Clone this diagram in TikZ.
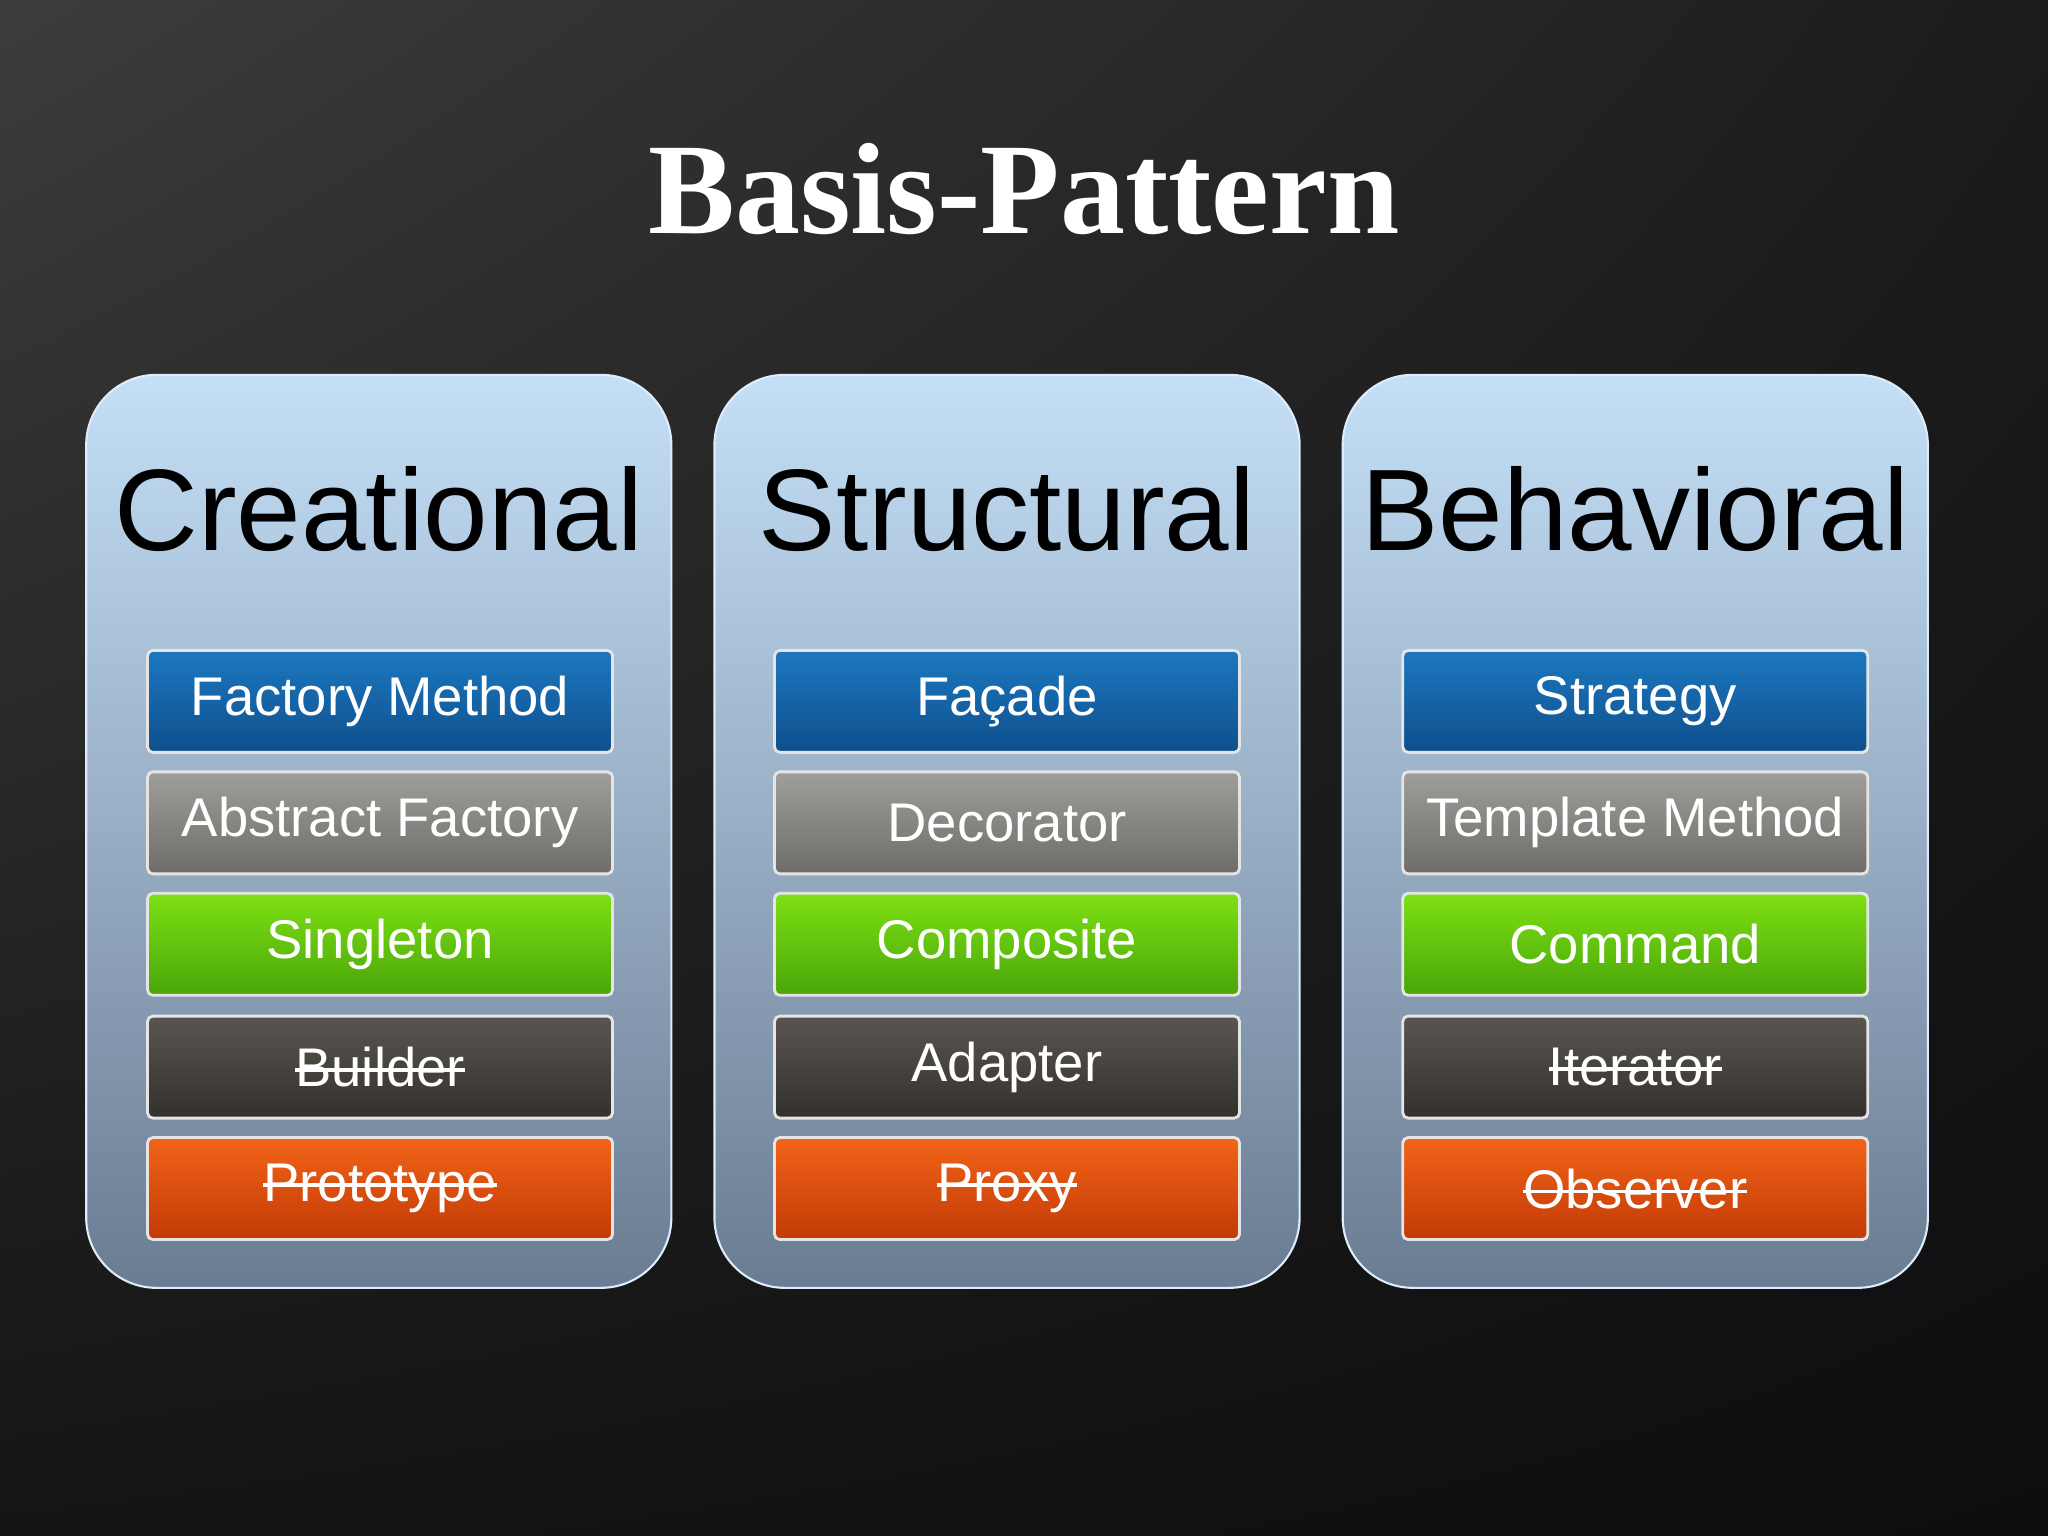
\documentclass[tikz,border=0pt]{standalone}
\usepackage{fontspec}
\setmainfont{Liberation Serif}
\setsansfont{Liberation Sans}
\usetikzlibrary{positioning,shadings}
\newcommand\strk[1]{\setbox0\hbox{#1}\rlap{\rule[0.27em]{\wd0}{1pt}}\box0}
\definecolor{bgtl}{HTML}{3C3C3C}
\definecolor{bgtr}{HTML}{1C1C1C}
\definecolor{bgbl}{HTML}{141414}
\definecolor{bgbr}{HTML}{0E0E10}
\definecolor{paneltop}{HTML}{C4DFF6}
\definecolor{panelbot}{HTML}{6A7C92}
\definecolor{btnblue}{HTML}{1C78C0}
\definecolor{btnbluedk}{HTML}{0E4F8C}
\definecolor{btngrey}{HTML}{A09E9A}
\definecolor{btngreydk}{HTML}{6E6C68}
\definecolor{btngreen}{HTML}{7EE014}
\definecolor{btngreendk}{HTML}{4AA508}
\definecolor{btndark}{HTML}{5A5550}
\definecolor{btndarkdk}{HTML}{33302D}
\definecolor{btnorange}{HTML}{F26418}
\definecolor{btnorangedk}{HTML}{C23A06}
\tikzset{
	panel/.style={rounded corners=20pt,top color=paneltop,bottom color=panelbot,draw=paneltop!60!white,line width=0.6pt},
	head/.style={font=\sffamily\fontsize{33}{36}\selectfont,text=black},
	button/.style={minimum width=4.65cm,minimum height=1.02cm,inner sep=0pt,
		text=white,font=\sffamily\fontsize{15.5}{17}\selectfont,
		draw=white!80!gray,line width=0.8pt,rounded corners=1.5pt},
	b1/.style={button,top color=btnblue,bottom color=btnbluedk},
	b2/.style={button,top color=btngrey,bottom color=btngreydk},
	b3/.style={button,top color=btngreen,bottom color=btngreendk},
	b4/.style={button,top color=btndark,bottom color=btndarkdk},
	b5/.style={button,top color=btnorange,bottom color=btnorangedk},
}
\begin{document}
\begin{tikzpicture}[x=0.01306cm,y=-0.01306cm]
	% background
	\shade[upper left=bgtl,upper right=bgtr,lower left=bgbl,lower right=bgbr] (0,0) rectangle (1568,1176);
	\useasboundingbox (0,0) rectangle (1568,1176);

	\node[text=white,font=\bfseries\fontsize{37}{40}\selectfont] (title) at (784,145) {Basis-Pattern};

	% panels
	\foreach \px/\name/\lbl in {66/crea/Creational,547/stru/Structural,1028/beha/Behavioral}{
		\shade[panel] (\px,287) rectangle ++(448,699);
		\node[head] (\name) at (\px+224,390) {\lbl};
	}

	% buttons
	\foreach \px/\name/\ta/\tb/\tc/\td/\te in {
		291/crea/Factory Method/Abstract Factory/Singleton/\strk{Builder}/\strk{Prototype},
		771/stru/Façade/Decorator/Composite/Adapter/\strk{Proxy},
		1252/beha/Strategy/Template Method/Command/\strk{Iterator}/\strk{Observer}}{
		\node[b1] (\name-1) at (\px,537) {\ta};
		\node[b2] (\name-2) at (\px,630) {\tb};
		\node[b3] (\name-3) at (\px,723) {\tc};
		\node[b4] (\name-4) at (\px,817) {\td};
		\node[b5] (\name-5) at (\px,910) {\te};
	}
\end{tikzpicture}
\end{document}
